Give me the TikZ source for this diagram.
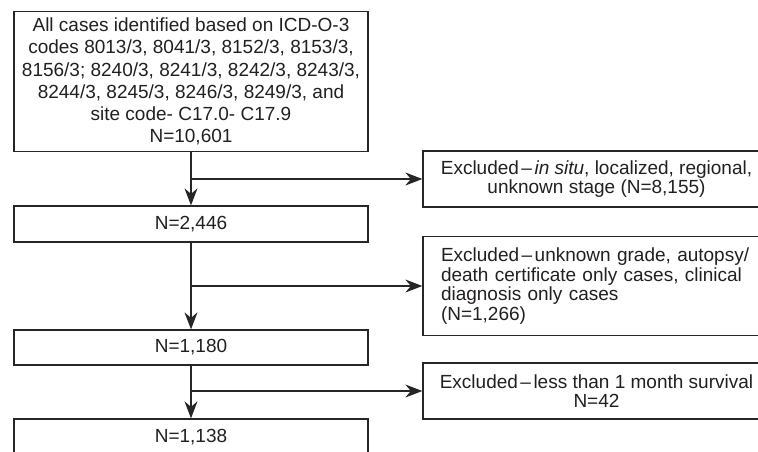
\documentclass[tikz,border=0pt]{standalone}
\usepackage{fontspec}
\setmainfont{Liberation Sans}
\usetikzlibrary{arrows.meta}
\definecolor{linec}{HTML}{262626}
\definecolor{textc}{HTML}{231F20}
\newcommand{\exdash}{\kern2.5pt--\kern2.5pt}
\begin{document}
\begin{tikzpicture}[x=1pt,y=-1pt,
  box/.style={draw=linec, line width=1.3pt, inner sep=0pt, text=textc,
    font=\fontsize{19}{19.5}\selectfont},
  conn/.style={draw=linec, line width=1.3pt,
    -{Stealth[length=17pt,width=13pt,inset=5.5pt]}}
]
\useasboundingbox (0,0) rectangle (758,451);
\clip (0,0) rectangle (758,451);
% left column
\node[box, minimum width=354pt, minimum height=140pt, align=center,
  font=\fontsize{19}{22.3}\selectfont] (top) at (191,81.5)
  {All cases identified based on ICD-O-3\\codes 8013/3, 8041/3, 8152/3, 8153/3,\\8156/3; 8240/3, 8241/3, 8242/3, 8243/3,\\8244/3, 8245/3, 8246/3, 8249/3, and\\site code- C17.0- C17.9\\N=10,601};
\node[box, minimum width=354pt, minimum height=36pt] (b2) at (191,224) {N=2,446};
\node[box, minimum width=354pt, minimum height=35pt] (b3) at (191,347.5) {N=1,180};
\node[box, minimum width=354pt, minimum height=36pt] (b4) at (191,437) {N=1,138};
% right column
\node[box, minimum width=347pt, minimum height=56pt, align=center] (r1) at (596.5,179)
  {Excluded\exdash\textit{in situ}, localized, regional,\\unknown stage (N=8,155)};
\node[box, minimum width=347pt, minimum height=99pt, align=left, text width=311pt] (r2) at (596.5,286)
  {Excluded\exdash unknown grade, autopsy/\\death certificate only cases, clinical\\diagnosis only cases\\(N=1,266)};
\node[box, minimum width=347pt, minimum height=56pt, align=center] (r3) at (596.5,391)
  {Excluded\exdash less than 1 month survival\\N=42};
% connectors
\draw[conn] (top.south) -- (b2.north);
\draw[conn] (top.south |- r1.west) -- (r1.west);
\draw[conn] (b2.south) -- (b3.north);
\draw[conn] (b2.south |- r2.west) -- (r2.west);
\draw[conn] (b3.south) -- (b4.north);
\draw[conn] (b3.south |- r3.west) -- (r3.west);
\end{tikzpicture}
\end{document}
